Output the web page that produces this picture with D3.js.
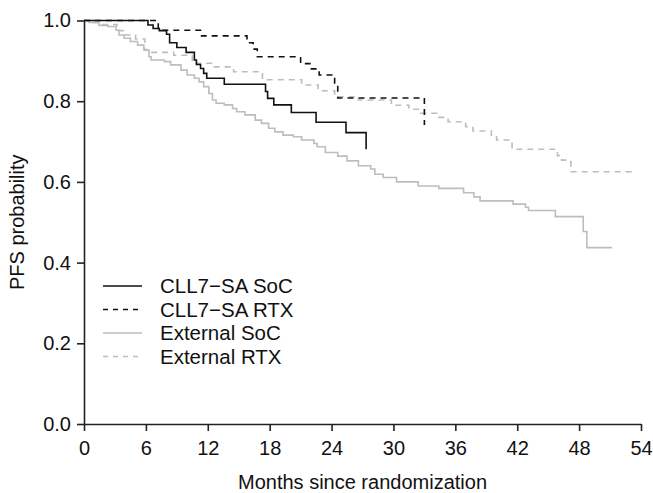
<!DOCTYPE html>
<html>
<head>
<meta charset="utf-8">
<script src="https://cdn.jsdelivr.net/npm/d3@7"></script>
<style>
  body { margin: 0; background: #fff; }
  svg text { font-family: "Liberation Sans", Arial, Helvetica, sans-serif; fill: #111; }
</style>
</head>
<body>
<svg id="chart" width="653" height="493"></svg>
<script>
// Kaplan-Meier step curves (months, PFS probability)
const socTimes = [0, 6.2, 6.7, 7.3, 8.0, 8.3, 9.0, 9.9, 10.7, 10.9, 11.3, 11.6, 11.9, 13.6, 17.6, 17.8, 18.4, 20.1, 22.5, 25.4, 27.35]
const socSurv  = [1.0, 0.989, 0.98, 0.975, 0.966, 0.945, 0.933, 0.921, 0.902, 0.891, 0.881, 0.869, 0.857, 0.842, 0.824, 0.807, 0.791, 0.772, 0.748, 0.722, 0.681]

const rtxTimes = [0, 7.2, 11.4, 15.8, 16.4, 16.8, 21.0, 21.9, 22.8, 24.3, 24.6, 33.0]
const rtxSurv  = [1.0, 0.976, 0.962, 0.945, 0.929, 0.910, 0.893, 0.88, 0.865, 0.84, 0.808, 0.741]

const extSocTimes = [0, 0.5, 1.45, 2.3, 3.1, 3.4, 3.9, 4.5, 5.2, 5.8, 6.3, 6.5, 7.8, 8.4, 9.4, 10.0, 10.7, 11.15, 11.6, 12.1, 12.45, 12.8, 13.6, 14.4, 14.8, 15.6, 16.6, 17.2, 17.9, 18.5, 19.3, 20.3, 21.1, 22.3, 22.6, 23.4, 24.6, 25.5, 26.6, 27.8, 28.2, 29.0, 30.3, 32.4, 34.4, 36.8, 37.8, 38.4, 41.6, 42.8, 43.1, 45.7, 48.4, 48.75, 51.2]
const extSocSurv  = [1.0, 0.995, 0.988, 0.985, 0.976, 0.964, 0.956, 0.948, 0.939, 0.927, 0.910, 0.902, 0.898, 0.89, 0.877, 0.865, 0.857, 0.848, 0.836, 0.819, 0.803, 0.795, 0.791, 0.782, 0.774, 0.766, 0.753, 0.745, 0.733, 0.724, 0.716, 0.712, 0.704, 0.695, 0.687, 0.673, 0.664, 0.652, 0.640, 0.632, 0.619, 0.611, 0.600, 0.590, 0.584, 0.573, 0.563, 0.553, 0.545, 0.537, 0.529, 0.514, 0.477, 0.437, 0.437]

const extRtxTimes = [0, 0.5, 1.5, 3.2, 4.0, 5.0, 5.9, 6.3, 8.7, 10.5, 12.5, 14.5, 17.3, 21.1, 22.7, 24.3, 26.6, 29.8, 31.5, 32.6, 34.2, 35.3, 37.0, 37.7, 39.5, 40.0, 41.5, 45.9, 46.3, 47.2, 53.1]
const extRtxSurv  = [1.0, 0.995, 0.99, 0.975, 0.964, 0.954, 0.927, 0.921, 0.914, 0.894, 0.885, 0.873, 0.853, 0.840, 0.826, 0.811, 0.803, 0.790, 0.780, 0.770, 0.760, 0.749, 0.737, 0.726, 0.712, 0.704, 0.681, 0.665, 0.654, 0.625, 0.625]

const xTicks = [0, 6, 12, 18, 24, 30, 36, 42, 48, 54]
const yTicks = [0, 0.2, 0.4, 0.6, 0.8, 1.0]
const legendLabels = ["CLL7\u2212SA SoC", "CLL7\u2212SA RTX", "External SoC", "External RTX"]

const grey = "#bdbdbd"
const series = [
    {times: extSocTimes, surv: extSocSurv, color: grey, dash: null},
    {times: extRtxTimes, surv: extRtxSurv, color: grey, dash: "6,5"},
    {times: socTimes, surv: socSurv, color: "#111", dash: null},
    {times: rtxTimes, surv: rtxSurv, color: "#111", dash: "6,5"}
]
const legendStyle = [
    {color: "#111", dash: null},
    {color: "#111", dash: "5,5"},
    {color: grey, dash: null},
    {color: grey, dash: "5,5"}
]

const svg = d3.select("#chart")

var x = d3.scaleLinear().domain([0, 54]).range([84, 641])
var y = d3.scaleLinear().domain([0, 1]).range([424, 20.5])

// x axis
var xAxis = svg.append("g")
    .attr("transform", "translate(0,424)")
    .call(d3.axisBottom(x).tickValues(xTicks).tickSize(7).tickSizeOuter(0).tickPadding(10))
xAxis.selectAll("text").style("font-size", "20px")

// y axis
var yAxis = svg.append("g")
    .attr("transform", "translate(84,0)")
    .call(d3.axisLeft(y).tickValues(yTicks).tickFormat(d3.format(".1f")).tickSize(7).tickSizeOuter(0).tickPadding(6))
yAxis.selectAll("text").style("font-size", "20px")

svg.selectAll(".domain, .tick line")
    .attr("stroke", "#222")
    .attr("stroke-width", 1.6)

// axis titles
svg.append("text")
    .attr("x", x(27))
    .attr("y", 489)
    .attr("text-anchor", "middle")
    .style("font-size", "20px")
    .text("Months since randomization")

svg.append("text")
    .attr("transform", "translate(24," + y(0.5) + ") rotate(-90)")
    .attr("text-anchor", "middle")
    .style("font-size", "20px")
    .text("PFS probability")

// curves
var line = d3.line()
    .x(function(d) { return x(d[0]) })
    .y(function(d) { return y(d[1]) })
    .curve(d3.curveStepAfter)

series.forEach(function(s) {
    svg.append("path")
        .datum(d3.zip(s.times, s.surv))
        .attr("d", line)
        .attr("fill", "none")
        .attr("stroke", s.color)
        .attr("stroke-width", 1.6)
        .attr("stroke-dasharray", s.dash)
})

// legend
var legend = svg.append("g")
legendLabels.forEach(function(label, i) {
    var ly = 286 + i * 23.5
    legend.append("line")
        .attr("x1", 103).attr("x2", 142)
        .attr("y1", ly).attr("y2", ly)
        .attr("stroke", legendStyle[i].color)
        .attr("stroke-width", 1.6)
        .attr("stroke-dasharray", legendStyle[i].dash)
    legend.append("text")
        .attr("x", 160)
        .attr("y", ly)
        .attr("dy", "0.36em")
        .style("font-size", "20.5px")
        .text(label)
})
</script>
</body>
</html>
